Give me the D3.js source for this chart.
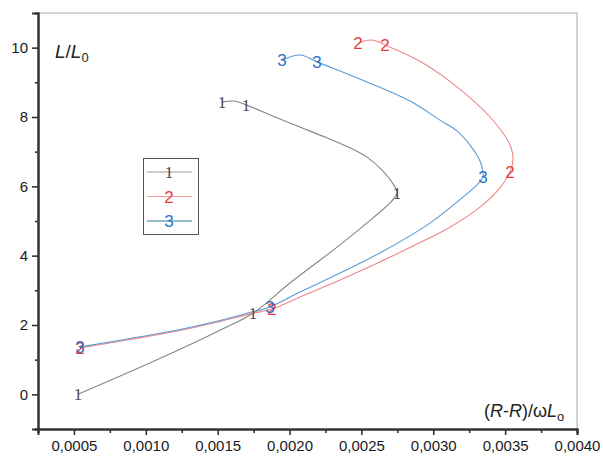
<!DOCTYPE html>
<html>
<head>
<meta charset="utf-8">
<script src="https://cdn.jsdelivr.net/npm/d3@7/dist/d3.min.js"></script>
<style>
  body { margin: 0; background: #fff; }
  svg { display: block; font-family: "Liberation Sans", Arial, sans-serif; }
</style>
</head>
<body>
<div id="chart"></div>
<script>
// curve 1 (gray)
const s1x = [0.000528, 0.000890, 0.001238, 0.001516, 0.001746, 0.002003, 0.002351, 0.002581, 0.002699, 0.002748, 0.002713, 0.002643, 0.002546, 0.002421, 0.002247, 0.002073, 0.001899, 0.001697, 0.001614, 0.001530];
const s1y = [0.00, 0.65, 1.30, 1.85, 2.34, 3.21, 4.31, 5.09, 5.52, 5.81, 6.12, 6.47, 6.82, 7.11, 7.42, 7.71, 8.00, 8.35, 8.46, 8.43];
const s1marks = [0, 4, 9, 17, 19];

// curve 2 (red)
const s2x = [0.000542, 0.000890, 0.001238, 0.001516, 0.001725, 0.001878, 0.002073, 0.002351, 0.002629, 0.002873, 0.003095, 0.003325, 0.003450, 0.003534, 0.003555, 0.003527, 0.003395, 0.003165, 0.002928, 0.002664, 0.002567, 0.002476];
const s2y = [1.34, 1.58, 1.84, 2.10, 2.32, 2.46, 2.81, 3.30, 3.82, 4.31, 4.77, 5.40, 5.89, 6.41, 6.82, 7.25, 8.00, 8.87, 9.56, 10.08, 10.22, 10.13];
const s2marks = [0, 5, 13, 19, 21];

// curve 3 (blue)
const s3x = [0.000542, 0.000890, 0.001238, 0.001516, 0.001725, 0.001864, 0.002073, 0.002351, 0.002629, 0.002977, 0.003207, 0.003304, 0.003346, 0.003339, 0.003311, 0.003256, 0.003165, 0.003047, 0.002838, 0.002539, 0.002191, 0.002073, 0.001947];
const s3y = [1.37, 1.61, 1.87, 2.13, 2.36, 2.52, 2.95, 3.50, 4.08, 4.94, 5.69, 6.04, 6.27, 6.56, 6.85, 7.19, 7.60, 7.91, 8.46, 9.01, 9.59, 9.79, 9.64];
const s3marks = [0, 5, 12, 20, 22];

const xTicks = [0.0005, 0.0010, 0.0015, 0.0020, 0.0025, 0.0030, 0.0035, 0.0040];
const xMinor = [0.00025, 0.00075, 0.00125, 0.00175, 0.00225, 0.00275, 0.00325, 0.00375];
const yTicks = [0, 2, 4, 6, 8, 10];
const yMinor = [-1, 1, 3, 5, 7, 9];
const seriesNames = ["1", "2", "3"];

const width = 603, height = 459;
const x = d3.scaleLinear().domain([0.00025, 0.0040]).range([38, 577]);
const y = d3.scaleLinear().domain([-1, 11]).range([429, 13]);

const svg = d3.select("#chart").append("svg")
  .attr("width", width).attr("height", height);

// frame (top + right)
svg.append("path")
  .attr("d", `M${x(0.00025)},${y(11)}H${x(0.004)}V${y(-1)}`)
  .attr("fill", "none").attr("stroke", "#a8a8a8").attr("stroke-width", 1);

const fmt = d => d3.format(".4f")(d).replace(".", ",");

// x axis
const gx = svg.append("g").attr("transform", `translate(0,${y(-1)})`);
gx.call(d3.axisBottom(x).tickValues(xTicks).tickFormat(fmt).tickSize(6).tickPadding(5));
gx.append("g").call(d3.axisBottom(x).tickValues(xMinor).tickFormat("").tickSize(4));
gx.selectAll(".domain").attr("stroke", "#333").attr("stroke-width", 2);
gx.selectAll(".tick line").attr("stroke", "#333").attr("stroke-width", 1.6);
gx.selectAll(".tick text").attr("font-size", 15).attr("fill", "#1a1a1a")
  .attr("font-family", "Liberation Sans, Arial, sans-serif");

// y axis
const gy = svg.append("g").attr("transform", `translate(${x(0.00025)},0)`);
gy.call(d3.axisLeft(y).tickValues(yTicks).tickSize(6).tickPadding(4));
gy.append("g").call(d3.axisLeft(y).tickValues(yMinor).tickFormat("").tickSize(3));
gy.selectAll(".domain").attr("stroke", "#333").attr("stroke-width", 2);
gy.selectAll(".tick line").attr("stroke", "#333").attr("stroke-width", 1.6);
gy.selectAll(".tick text").attr("font-size", 15).attr("fill", "#1a1a1a")
  .attr("font-family", "Liberation Sans, Arial, sans-serif");

// curves
const series = [
  { xs: s1x, ys: s1y, marks: s1marks, name: seriesNames[0], line: "#858585", label: "#4a4a4a", font: "Liberation Serif, serif" },
  { xs: s2x, ys: s2y, marks: s2marks, name: seriesNames[1], line: "#ef8585", label: "#e43d3d", font: "Liberation Sans, Arial, sans-serif" },
  { xs: s3x, ys: s3y, marks: s3marks, name: seriesNames[2], line: "#5a9ad6", label: "#2e72c6", font: "Liberation Sans, Arial, sans-serif" }
];

const line = d3.line().x(d => x(d[0])).y(d => y(d[1])).curve(d3.curveCatmullRom.alpha(0.5));

series.forEach(s => {
  const pts = s.xs.map((v, i) => [v, s.ys[i]]);
  svg.append("path").datum(pts)
    .attr("d", line)
    .attr("fill", "none").attr("stroke", s.line).attr("stroke-width", 1.1);
});

series.forEach(s => {
  svg.append("g").selectAll("text").data(s.marks).join("text")
    .attr("x", i => x(s.xs[i]))
    .attr("y", i => y(s.ys[i]))
    .attr("dy", "0.36em")
    .attr("text-anchor", "middle")
    .attr("font-family", s.font)
    .attr("font-size", 17)
    .attr("fill", s.label)
    .text(s.name);
});

// legend
const lg = svg.append("g");
lg.append("rect").attr("x", 143.5).attr("y", 158.5).attr("width", 55).attr("height", 76)
  .attr("fill", "#fff").attr("stroke", "#555").attr("stroke-width", 1);
const legendLine = ["#999", "#f09a9a", "#2f7d8c"];
series.forEach((s, i) => {
  const ly = 172 + i * 24.5;
  lg.append("line").attr("x1", 147).attr("x2", 192).attr("y1", ly).attr("y2", ly)
    .attr("stroke", legendLine[i]).attr("stroke-width", 1.2);
  lg.append("text").attr("x", 169).attr("y", ly).attr("dy", "0.36em")
    .attr("text-anchor", "middle").attr("font-family", s.font).attr("font-size", 17)
    .attr("fill", s.label).text(s.name);
});

// axis titles
const yt = svg.append("text").attr("x", 55).attr("y", 58).attr("font-size", 19).attr("fill", "#222");
yt.append("tspan").attr("font-style", "italic").text("L");
yt.append("tspan").text("/");
yt.append("tspan").attr("font-style", "italic").text("L");
yt.append("tspan").attr("font-size", 13).attr("dy", 4).text("0");

const xt = svg.append("text").attr("x", 484).attr("y", 417).attr("font-size", 18).attr("fill", "#222");
xt.append("tspan").text("(");
xt.append("tspan").attr("font-style", "italic").text("R");
xt.append("tspan").text("-");
xt.append("tspan").attr("font-style", "italic").text("R");
xt.append("tspan").text(")/ω");
xt.append("tspan").attr("font-style", "italic").text("L");
xt.append("tspan").attr("font-size", 13).attr("dy", 4).text("o");
</script>
</body>
</html>
